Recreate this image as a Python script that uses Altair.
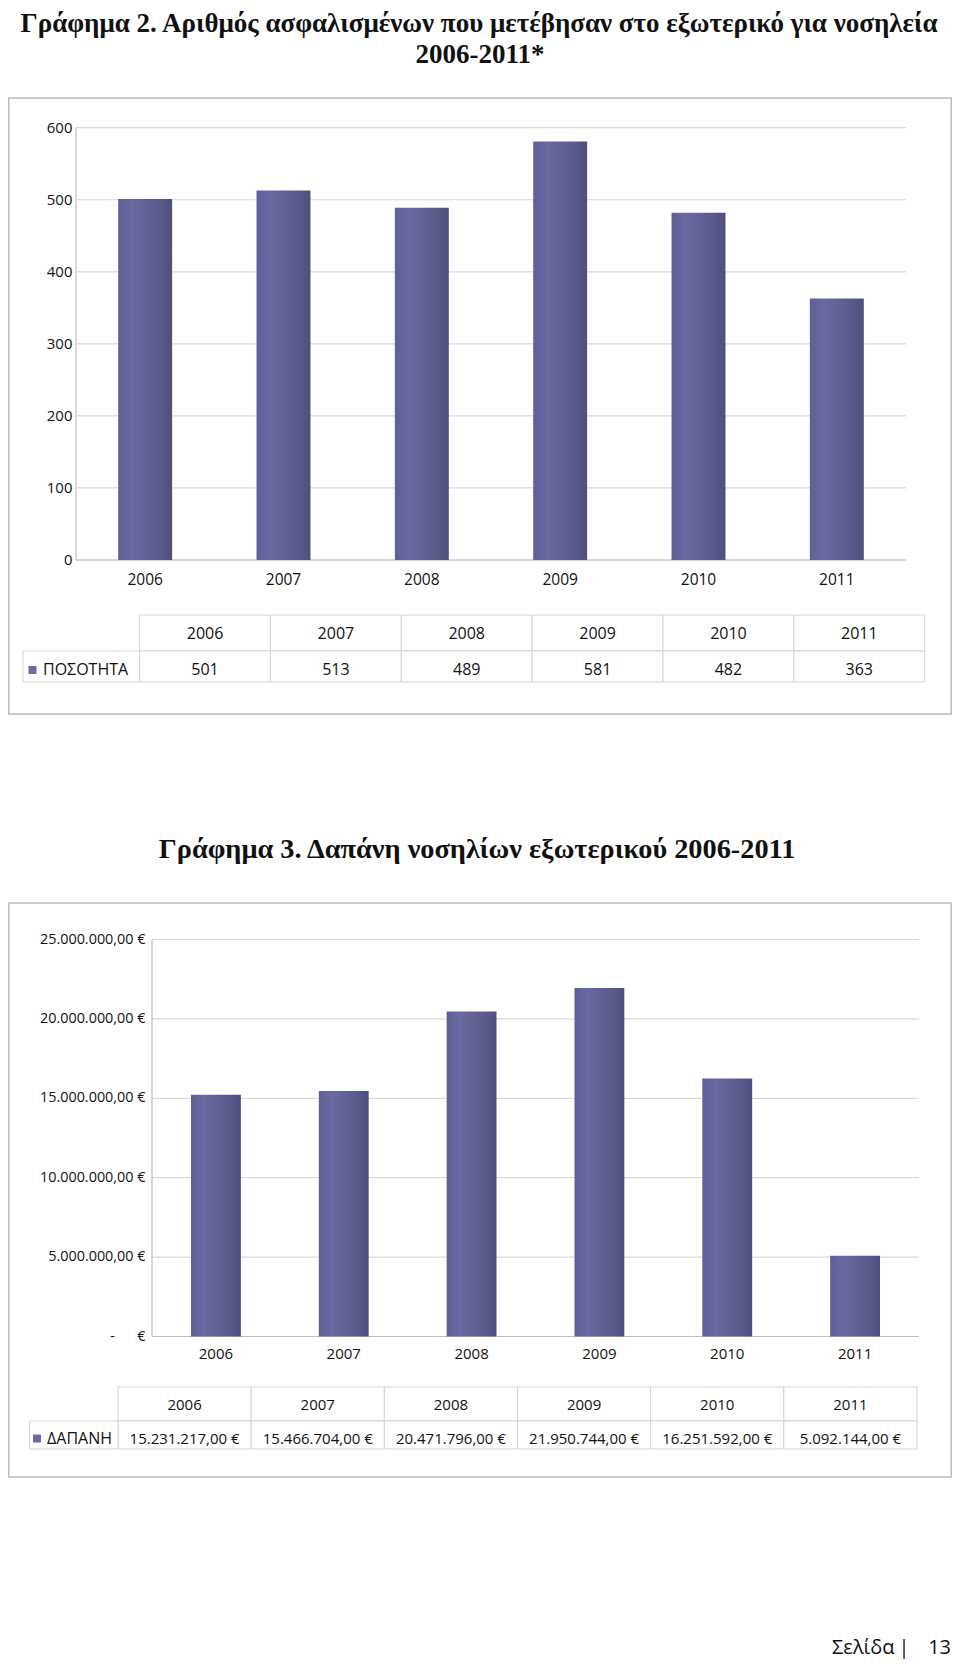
import altair as alt
import pandas as pd

# ---------------- data ----------------
years = ["2006", "2007", "2008", "2009", "2010", "2011"]
patients = [501, 513, 489, 581, 482, 363]
costs = [15231217, 15466704, 20471796, 21950744, 16251592, 5092144]

y1_ticks = [0, 100, 200, 300, 400, 500, 600]
y1_tick_labels = ["0", "100", "200", "300", "400", "500", "600"]
y2_ticks = [0, 5000000, 10000000, 15000000, 20000000, 25000000]
y2_tick_labels = ["-\u00a0\u00a0\u00a0\u00a0\u00a0\u00a0€", "5.000.000,00 €", "10.000.000,00 €",
                  "15.000.000,00 €", "20.000.000,00 €", "25.000.000,00 €"]

title1_line1 = "Γράφημα 2. Αριθμός ασφαλισμένων που μετέβησαν στο εξωτερικό για νοσηλεία"
title1_line2 = "2006-2011*"
title2 = "Γράφημα 3. Δαπάνη νοσηλίων εξωτερικού 2006-2011"
series1_name = "ΠΟΣΟΤΗΤΑ"
series2_name = "ΔΑΠΑΝΗ"
footer_word = "Σελίδα"
footer_bar = "|"
page_number = "13"

df1 = pd.DataFrame({"year": years, "v": patients})
df2 = pd.DataFrame({"year": years, "v": costs})
t1 = pd.DataFrame({"v": y1_ticks, "lab": y1_tick_labels})
t2 = pd.DataFrame({"v": y2_ticks, "lab": y2_tick_labels})
one = pd.DataFrame({"k": [0]})

# ---------------- styles ----------------
SANS = "Open Sans"
SERIF = "Liberation Serif"
GRID = "#d9d9d9"
AXIS = "#bfbfbf"
FRAME = "#bdbdbd"
TABLE = "#d3d3d3"
TXT = "#111111"
LEG = "#6b6ba3"

bar_fill = alt.Gradient(
    gradient="linear",
    x1=0, x2=1, y1=0, y2=0,
    stops=[
        alt.GradientStop(color="#5f5f97", offset=0),
        alt.GradientStop(color="#6a6aa1", offset=0.25),
        alt.GradientStop(color="#626296", offset=0.5),
        alt.GradientStop(color="#58588a", offset=0.8),
        alt.GradientStop(color="#4f4f7b", offset=1),
    ],
)


def rect(x, x2, y, y2, **kw):
    return alt.Chart(one).mark_rect(**kw).encode(
        x=alt.value(x), x2=alt.value(x2), y=alt.value(y), y2=alt.value(y2))


def hline(x, x2, y, color, w=1):
    return alt.Chart(one).mark_rule(color=color, strokeWidth=w).encode(
        x=alt.value(x), x2=alt.value(x2), y=alt.value(y))


def vline(x, y, y2, color, w=1):
    return alt.Chart(one).mark_rule(color=color, strokeWidth=w).encode(
        x=alt.value(x), y=alt.value(y), y2=alt.value(y2))


def label(txt, x, y, size, align="left", baseline="middle", font=SANS, weight="normal"):
    return alt.Chart(one).mark_text(
        text=txt, align=align, baseline=baseline, fontSize=size, font=font,
        fontWeight=weight, color=TXT).encode(x=alt.value(x), y=alt.value(y))


def bar_chart(df, ticks, ydom, yrange, xrange, tick_x, tick_size, xlab_y, xlab_size):
    ys = alt.Scale(domain=ydom, range=yrange, nice=False, zero=False)
    xs = alt.Scale(domain=years, range=xrange, paddingInner=0.61, paddingOuter=0.305)
    grid = alt.Chart(ticks).mark_rule(color=GRID, strokeWidth=1.2).encode(
        y=alt.Y("v:Q", scale=ys, axis=None),
        x=alt.value(xrange[0]), x2=alt.value(xrange[1]))
    ylabs = alt.Chart(ticks).mark_text(
        align="right", baseline="middle", fontSize=tick_size, font=SANS, color=TXT).encode(
        y=alt.Y("v:Q", scale=ys, axis=None), x=alt.value(tick_x), text="lab:N")
    axis_v = vline(xrange[0], yrange[1], yrange[0], AXIS, 1.2)
    axis_h = hline(xrange[0], xrange[1], yrange[0], AXIS, 1.2)
    bars = alt.Chart(df).mark_bar(color=bar_fill).encode(
        x=alt.X("year:N", scale=xs, axis=None),
        y=alt.Y("v:Q", scale=ys, axis=None))
    xlabs = alt.Chart(df).mark_text(
        baseline="middle", fontSize=xlab_size, font=SANS, color=TXT).encode(
        x=alt.X("year:N", scale=xs, axis=None), y=alt.value(xlab_y), text="year:N")
    return [grid, ylabs, axis_v, axis_h, bars, xlabs]


def data_table(base, text_field, xrange, x_label, y0, y1, y2, size, name, square_x, name_x):
    ts = alt.Scale(domain=years, range=xrange, paddingInner=0, paddingOuter=0)
    head = base.mark_rect(fill="white", stroke=TABLE, strokeWidth=1).encode(
        x=alt.X("year:N", scale=ts, axis=None), y=alt.value(y0), y2=alt.value(y1))
    cells = base.mark_rect(fill="white", stroke=TABLE, strokeWidth=1).encode(
        x=alt.X("year:N", scale=ts, axis=None), y=alt.value(y1), y2=alt.value(y2))
    lab_cell = rect(x_label, xrange[0], y1, y2, fill="white", stroke=TABLE, strokeWidth=1)
    head_txt = base.mark_text(fontSize=size, font=SANS, color=TXT, baseline="middle").encode(
        x=alt.X("year:N", scale=ts, axis=None), y=alt.value((y0 + y1) / 2 + 1), text="year:N")
    ym = (y1 + y2) / 2 + 3.5
    val_txt = base.mark_text(fontSize=size, font=SANS, color=TXT, baseline="middle").encode(
        x=alt.X("year:N", scale=ts, axis=None), y=alt.value(ym), text=text_field)
    square = rect(square_x - 4, square_x + 4, ym - 4, ym + 4, color=LEG)
    name_txt = label(name, name_x, ym, 16)
    return [head, cells, lab_cell, head_txt, val_txt, square, name_txt]


layers = []

# ---------- chart 1 ----------
layers.append(label(title1_line1, 471, 24, 27, align="center", baseline="alphabetic", font=SERIF, weight="bold"))
layers.append(label(title1_line2, 472, 55, 27, align="center", baseline="alphabetic", font=SERIF, weight="bold"))
layers.append(rect(0.75, 943.25, 90, 706, fill="white", stroke=FRAME, strokeWidth=1.5))
layers += bar_chart(df1, t1, [0, 600], [552, 119.7], [68, 898], 64.5, 15, 571.5, 15.5)
layers += data_table(alt.Chart(df1), "v:Q", [131.6, 916.7], 15, 607, 643, 674, 16, series1_name, 24.5, 35)

# ---------- chart 2 ----------
df2_fmt = alt.Chart(df2).transform_calculate(
    txt="replace(replace(replace(format(datum.v, ',.2f'), regexp(',', 'g'), '_'), "
        "regexp('[.]', 'g'), ','), regexp('_', 'g'), '.') + ' €'"
)
layers.append(label(title2, 469, 850, 28.3, align="center", baseline="alphabetic", font=SERIF, weight="bold"))
layers.append(rect(0.75, 943.25, 895, 1469, fill="white", stroke=FRAME, strokeWidth=1.5))
layers += bar_chart(df2, t2, [0, 25000000], [1328.5, 931.5], [144, 911], 137.5, 14.4, 1346, 15)
layers += data_table(df2_fmt, "txt:N", [110, 909], 21.5, 1379, 1413, 1441, 15, series2_name, 29, 39)

# ---------- footer ----------
layers.append(label(footer_word, 824, 1646, 20, baseline="alphabetic"))
layers.append(label(footer_bar, 896, 1646, 20, align="center", baseline="alphabetic"))
layers.append(label(page_number, 943, 1646, 20, align="right", baseline="alphabetic"))

chart = alt.layer(*layers).resolve_scale(x="independent", y="independent").properties(
    width=944, height=1652, padding=0,
    autosize=alt.AutoSizeParams(type="none"),
    background="white",
).configure_view(stroke=None)

chart.save("out.html", embed_options={"renderer": "svg", "actions": False})
